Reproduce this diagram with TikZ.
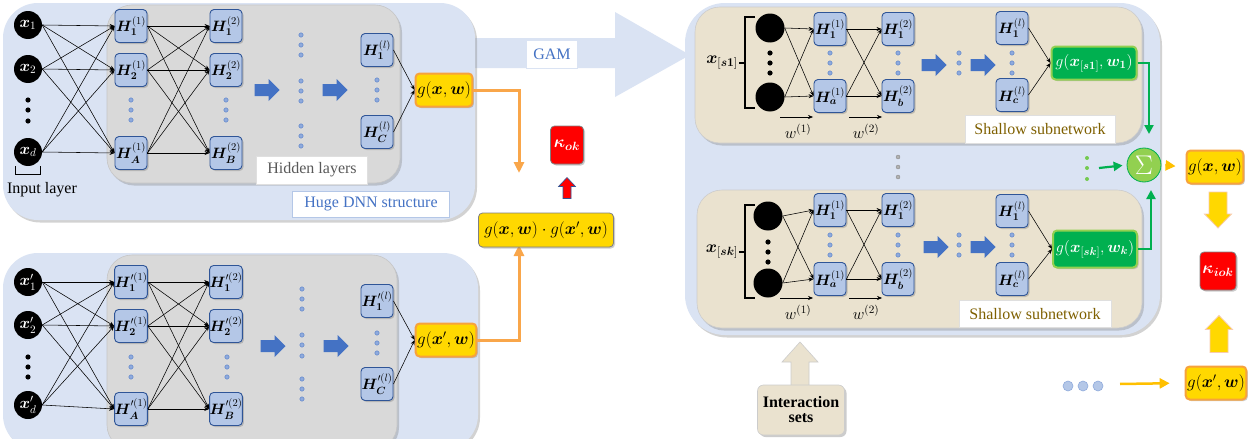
\documentclass[tikz,border=0pt]{standalone}
\usepackage{fix-cm}
\usepackage{amsmath}
\usepackage{bm}
\usepackage{fontspec}
\setmainfont{Liberation Serif}
\usetikzlibrary{arrows.meta,shadows,calc}
\newcommand{\myfs}[1]{\fontsize{#1}{#1}\selectfont}
\newcommand{\blockarr}[5]{%
 \path[#1] ({-#2/2},-#3) -- ({#2/2-#5},-#3) -- ({#2/2-#5},-#4) -- ({#2/2},0) -- ({#2/2-#5},#4) -- ({#2/2-#5},#3) -- ({-#2/2},#3) -- cycle;}
\definecolor{panelblue}{HTML}{DAE3F3}
\definecolor{grayp}{HTML}{D9D9D9}
\definecolor{hfill}{HTML}{B4C7E7}
\definecolor{hdraw}{HTML}{2F5597}
\definecolor{arrblue}{HTML}{4472C4}
\definecolor{dotfill}{HTML}{8FAADC}
\definecolor{gold}{HTML}{FFD800}
\definecolor{orangeb}{HTML}{F7A23C}
\definecolor{orangec}{HTML}{F9A64A}
\definecolor{amber}{HTML}{FFC000}
\definecolor{tan}{HTML}{EAE2CF}
\definecolor{dgreen}{HTML}{00B050}
\definecolor{lgreen}{HTML}{92D050}
\definecolor{brown}{HTML}{7F6000}
\definecolor{dgray}{HTML}{595959}
\definecolor{paleorange}{HTML}{F8CBAD}
\begin{document}
\begin{tikzpicture}[x=1pt,y=-1pt,
 shad/.style={drop shadow={opacity=0.35,shadow xshift=2pt,shadow yshift=-2.5pt}},
 panel/.style={fill=panelblue, rounded corners=35pt, shad},
 gpanel/.style={fill=grayp, draw=gray!45, line width=0.6pt, rounded corners=25pt, shad},
 tpanel/.style={fill=tan, draw=gray!40, line width=0.6pt, rounded corners=25pt, shad},
 hb/.style={rectangle, rounded corners=4pt, fill=hfill, draw=hdraw, line width=0.9pt, minimum width=32pt, minimum height=33pt, inner sep=0pt, font=\myfs{15}, drop shadow={opacity=0.4,shadow xshift=1.5pt,shadow yshift=-1.5pt}},
 inp/.style={circle, fill=black, minimum size=28pt, inner sep=0pt, text=white, font=\myfs{16}},
 blk/.style={circle, fill=black, minimum size=29pt, inner sep=0pt},
 gb/.style={rectangle, rounded corners=4pt, fill=gold, draw=orangeb, line width=2pt, inner sep=1.5pt, minimum height=33pt, font=\myfs{17}, drop shadow={opacity=0.4,shadow xshift=1.5pt,shadow yshift=-1.5pt}},
 grb/.style={rectangle, rounded corners=4pt, fill=dgreen, draw=lgreen, line width=2pt, inner sep=1.5pt, text=white, font=\myfs{16}, drop shadow={opacity=0.4,shadow xshift=1.5pt,shadow yshift=-1.5pt}},
 lab/.style={rectangle, fill=white, font=\myfs{16}, inner sep=0pt},
 edge/.style={-{Stealth[length=5pt,width=4pt]}, line width=0.55pt},
 wlab/.style={font=\myfs{16}, inner sep=0pt},
 orconn/.style={draw=orangec, line width=3pt, -{Triangle[length=11pt,width=10pt]}},
 grconn/.style={draw=dgreen, line width=2.2pt, -{Triangle[length=9pt,width=9pt]}},
 amconn/.style={draw=amber, line width=2.5pt, -{Triangle[length=10pt,width=10pt]}},
]
\useasboundingbox (0,0) rectangle (1254,439);
\fill[white] (0,0) rectangle (1254,439);

% GAM big arrow
\fill[panelblue] (470,38) -- (615,38) -- (615,12) -- (690,55) -- (615,97) -- (615,68) -- (470,68) -- cycle;
\node[lab, draw=panelblue, text=arrblue, minimum width=51pt, minimum height=28pt] (gam) at (552,54) {GAM};

% ================= top-left DNN =================
\path[panel] (3,3) rectangle (475,220);
\path[gpanel] (107,5) rectangle (400,183);
\node[inp] (a1) at (28,25) {$\bm{x}_1$};
\node[inp] (a2) at (28,69) {$\bm{x}_2$};
\node[inp] (a3) at (28,152) {$\bm{x}_d$};
\foreach \y in {100,110,121} \fill[black] (28,\y) circle (2.6);
\draw[line width=0.8pt] (15,166) -- (15,174) -- (40,174) -- (40,166);
\node[font=\myfs{16}, inner sep=0pt] (inlab) at (42,190) {Input layer};

\node[hb] (h11) at (131,26) {$\bm{H}_{\bm 1}^{(1)}$};
\node[hb] (h12) at (131,70) {$\bm{H}_{\bm 2}^{(1)}$};
\node[hb] (h13) at (131,153) {$\bm{H}_{\bm A}^{(1)}$};
\node[hb] (h21) at (226,26) {$\bm{H}_{\bm 1}^{(2)}$};
\node[hb] (h22) at (226,70) {$\bm{H}_{\bm 2}^{(2)}$};
\node[hb] (h23) at (226,153) {$\bm{H}_{\bm B}^{(2)}$};
\node[hb] (hl1) at (377,50) {$\bm{H}_{\bm 1}^{(l)}$};
\node[hb] (hl2) at (377,132) {$\bm{H}_{\bm C}^{(l)}$};
\foreach \xx in {131,226} \foreach \y in {100,110,120} \filldraw[fill=dotfill, draw=arrblue, line width=0.3pt] (\xx,\y) circle (2.2);
\foreach \y in {35,45,55,81,91,101,126,136,146} \filldraw[fill=dotfill, draw=arrblue, line width=0.3pt] (301,\y) circle (2.2);
\foreach \y in {80,90,100} \filldraw[fill=dotfill, draw=arrblue, line width=0.3pt] (377,\y) circle (2.2);
\begin{scope}[shift={(267,90)}]\blockarr{fill=arrblue}{25}{6}{11}{11}\end{scope}
\begin{scope}[shift={(335,90)}]\blockarr{fill=arrblue}{25}{6}{11}{11}\end{scope}
\foreach \i in {1,2,3} \foreach \j in {1,2,3} {
  \draw[edge] (a\i.east) -- (h1\j.west);
  \draw[edge] (h1\i.east) -- (h2\j.west);
}
\node[gb, minimum width=56pt] (g1) at (444,90) {$g(\bm{x},\bm{w})$};
\draw[edge] (hl1.east) -- (g1.west);
\draw[edge] (hl2.east) -- (g1.west);
\node[lab, draw=gray!25, text=dgray, minimum width=111pt, minimum height=28pt] (hid) at (312,170) {Hidden layers};
\node[lab, draw=hfill, text=arrblue, minimum width=157pt, minimum height=26pt] (huge) at (371,204) {Huge DNN structure};

% ================= bottom-left DNN =================
\path[panel] (3,253) rectangle (478,450);
\path[gpanel] (107,255) rectangle (397,450);
\node[inp] (b1) at (28,282) {$\bm{x}'_1$};
\node[inp] (b2) at (28,325) {$\bm{x}'_2$};
\node[inp] (b3) at (28,405) {$\bm{x}'_d$};
\foreach \y in {357,367,377} \fill[black] (28,\y) circle (2.6);
\node[hb] (p11) at (131,282) {$\bm{H}'^{(1)}_{\bm 1}$};
\node[hb] (p12) at (131,326) {$\bm{H}'^{(1)}_{\bm 2}$};
\node[hb] (p13) at (131,409) {$\bm{H}'^{(1)}_{\bm A}$};
\node[hb] (p21) at (226,282) {$\bm{H}'^{(2)}_{\bm 1}$};
\node[hb] (p22) at (226,326) {$\bm{H}'^{(2)}_{\bm 2}$};
\node[hb] (p23) at (226,409) {$\bm{H}'^{(2)}_{\bm B}$};
\node[hb] (pl1) at (377,301) {$\bm{H}'^{(l)}_{\bm 1}$};
\node[hb] (pl2) at (377,384) {$\bm{H}'^{(l)}_{\bm C}$};
\foreach \xx in {131,227} \foreach \y in {357,367,377} \filldraw[fill=dotfill, draw=arrblue, line width=0.3pt] (\xx,\y) circle (2.2);
\foreach \y in {289,299,309,335,345,356,379,389,399} \filldraw[fill=dotfill, draw=arrblue, line width=0.3pt] (302,\y) circle (2.2);
\foreach \y in {333,343,353} \filldraw[fill=dotfill, draw=arrblue, line width=0.3pt] (377,\y) circle (2.2);
\begin{scope}[shift={(273,346)}]\blockarr{fill=arrblue}{25}{6}{11}{11}\end{scope}
\begin{scope}[shift={(336,346)}]\blockarr{fill=arrblue}{25}{6}{11}{11}\end{scope}
\foreach \i in {1,2,3} \foreach \j in {1,2,3} {
  \draw[edge] (b\i.east) -- (p1\j.west);
  \draw[edge] (p1\i.east) -- (p2\j.west);
}
\node[gb, minimum width=58pt] (g2) at (446,340) {$g(\bm{x}',\bm{w})$};
\draw[edge] (pl1.east) -- (g2.west);
\draw[edge] (pl2.east) -- (g2.west);

% ================= middle =================
\coordinate (o1) at (519,173);
\coordinate (o2) at (519,245);
\draw[orconn] (g1.east) -| (o1);
\draw[orconn] (g2.east) -| (o2);
\node[rectangle, rounded corners=4pt, fill=red, draw=gray, line width=0.8pt, minimum width=33pt, minimum height=38pt, text=white, font=\myfs{17}, inner sep=0pt, drop shadow={opacity=0.4,shadow xshift=1.5pt,shadow yshift=-1.5pt}] (kok) at (567,145) {$\bm{\kappa}_{\bm{ok}}$};
\begin{scope}[shift={(567,188)}, rotate=90]\blockarr{fill=red, draw=hdraw, line width=0.6pt}{21}{4}{8.5}{9}\end{scope}
\node[rectangle, rounded corners=4pt, fill=gold, draw=gray, line width=0.8pt, minimum width=135pt, minimum height=34pt, font=\myfs{17}, inner sep=0pt, drop shadow={opacity=0.4,shadow xshift=1.5pt,shadow yshift=-1.5pt}] (prod) at (546,230) {$g(\bm{x},\bm{w})\cdot g(\bm{x}',\bm{w})$};

% ================= right GAM panel =================
\path[panel, rounded corners=40pt] (685,3) rectangle (1160,335);
\path[tpanel] (695,7) rectangle (1142,143);
\path[tpanel] (697,190) rectangle (1142,328);

% --- top subnetwork
\node[font=\myfs{17}, inner sep=0pt] (xs1) at (722,63) {$\bm{x}_{[\bm{s1}]}$};
\draw[line width=1.3pt] (755,17) -- (745,17) -- (745,108) -- (755,108);
\draw[line width=1.3pt] (739,63) -- (745,63);
\node[blk] (c11) at (770,28) {};
\node[blk] (c12) at (770,97) {};
\foreach \y in {53,63,73} \fill[black] (770,\y) circle (2.6);
\node[hb] (s1a1) at (830,29) {$\bm{H}_{\bm 1}^{(1)}$};
\node[hb] (s1a2) at (830,96) {$\bm{H}_{\bm a}^{(1)}$};
\node[hb] (s1b1) at (898,29) {$\bm{H}_{\bm 1}^{(2)}$};
\node[hb] (s1b2) at (898,96) {$\bm{H}_{\bm b}^{(2)}$};
\node[hb] (s1l1) at (1012,28) {$\bm{H}_{\bm 1}^{(l)}$};
\node[hb] (s1l2) at (1012,95) {$\bm{H}_{\bm c}^{(l)}$};
\foreach \xx in {830,898,959,1012} \foreach \y in {53,63,73} \filldraw[fill=dotfill, draw=arrblue, line width=0.3pt] (\xx,\y) circle (2.2);
\begin{scope}[shift={(934,65)}]\blockarr{fill=arrblue}{25}{6}{11}{11}\end{scope}
\begin{scope}[shift={(983,65)}]\blockarr{fill=arrblue}{25}{6}{11}{11}\end{scope}
\foreach \i in {1,2} \foreach \j in {1,2} {
  \draw[edge] (c1\i.east) -- (s1a\j.west);
  \draw[edge] (s1a\i.east) -- (s1b\j.west);
}
\coordinate (w1s) at (780,117); \coordinate (w1e) at (813,117);
\coordinate (w2s) at (849,117); \coordinate (w2e) at (882,117);
\draw[edge] (w1s) -- (w1e);
\draw[edge] (w2s) -- (w2e);
\node[wlab] (w1l) at (798,131) {$w^{(1)}$};
\node[wlab] (w2l) at (866,131) {$w^{(2)}$};
\node[grb, minimum width=85pt, minimum height=33pt] (gs1) at (1094,63) {$g(\bm{x}_{[\bm{s1}]},\bm{w}_{\bm 1})$};
\draw[edge] (s1l1.east) -- (gs1.west);
\draw[edge] (s1l2.east) -- (gs1.west);
\node[lab, draw=gray!25, text=brown, minimum width=150pt, minimum height=28pt] (sh1) at (1040,129) {Shallow subnetwork};

% --- bottom subnetwork
\node[font=\myfs{17}, inner sep=0pt] (xsk) at (722,252) {$\bm{x}_{[\bm{sk}]}$};
\draw[line width=1.3pt] (755,205) -- (745,205) -- (745,298) -- (755,298);
\draw[line width=1.3pt] (739,252) -- (745,252);
\node[blk] (c21) at (768,216) {};
\node[blk] (c22) at (768,283) {};
\foreach \y in {242,252,262} \fill[black] (768,\y) circle (2.6);
\node[hb] (s2a1) at (830,210) {$\bm{H}_{\bm 1}^{(1)}$};
\node[hb] (s2a2) at (830,279) {$\bm{H}_{\bm a}^{(1)}$};
\node[hb] (s2b1) at (898,210) {$\bm{H}_{\bm 1}^{(2)}$};
\node[hb] (s2b2) at (898,279) {$\bm{H}_{\bm b}^{(2)}$};
\node[hb] (s2l1) at (1012,211) {$\bm{H}_{\bm 1}^{(l)}$};
\node[hb] (s2l2) at (1012,279) {$\bm{H}_{\bm c}^{(l)}$};
\foreach \xx in {830,898,959,1012} \foreach \y in {235,245,255} \filldraw[fill=dotfill, draw=arrblue, line width=0.3pt] (\xx,\y) circle (2.2);
\begin{scope}[shift={(936,247)}]\blockarr{fill=arrblue}{25}{6}{11}{11}\end{scope}
\begin{scope}[shift={(983,247)}]\blockarr{fill=arrblue}{25}{6}{11}{11}\end{scope}
\foreach \i in {1,2} \foreach \j in {1,2} {
  \draw[edge] (c2\i.east) -- (s2a\j.west);
  \draw[edge] (s2a\i.east) -- (s2b\j.west);
}
\coordinate (v1s) at (780,298); \coordinate (v1e) at (813,298);
\coordinate (v2s) at (849,298); \coordinate (v2e) at (882,298);
\draw[edge] (v1s) -- (v1e);
\draw[edge] (v2s) -- (v2e);
\node[wlab] (v1l) at (798,312) {$w^{(1)}$};
\node[wlab] (v2l) at (866,312) {$w^{(2)}$};
\node[grb, minimum width=84pt, minimum height=37pt] (gsk) at (1095,249) {$g(\bm{x}_{[\bm{sk}]},\bm{w}_{\bm k})$};
\draw[edge] (s2l1.east) -- (gsk.west);
\draw[edge] (s2l2.east) -- (gsk.west);
\node[lab, draw=gray!25, text=brown, minimum width=152pt, minimum height=27pt] (sh2) at (1035,314) {Shallow subnetwork};

% gray dots between subnetworks
\foreach \y in {157,167,177} \filldraw[fill=gray!60, draw=gray, line width=0.3pt] (898,\y) circle (2);

% sigma
\node[circle, fill=lgreen, draw=dgreen, line width=0.8pt, minimum size=34pt, inner sep=0pt, text=white, font=\myfs{27}] (sig) at (1144,165) {$\Sigma$};
\coordinate (sigtop) at (1149,134);
\coordinate (sigbot) at (1151,190);
\draw[grconn] (gs1.east) -| (sigtop);
\draw[grconn] (gsk.east) -| (sigbot);
\foreach \y in {158,168,179} \fill[lgreen!80!dgreen] (1087,\y) circle (2);
\coordinate (gd) at (1099,168);
\draw[grconn, shorten >=4pt] (gd) -- (sig.west);

% far right
\node[gb, minimum width=55pt] (gr1) at (1215,167) {$g(\bm{x},\bm{w})$};
\draw[amconn, shorten <=4pt, shorten >=10pt] (sig.east) -- (gr1.west);
\begin{scope}[shift={(1218,210)}, rotate=-90]\blockarr{fill=gold, draw=paleorange, line width=0.8pt}{36}{9}{13.5}{14}\end{scope}
\node[rectangle, rounded corners=4pt, fill=red, draw=gray, line width=0.8pt, minimum width=36pt, minimum height=38pt, text=white, font=\myfs{17}, inner sep=0pt, drop shadow={opacity=0.4,shadow xshift=1.5pt,shadow yshift=-1.5pt}] (kiok) at (1218,271) {$\bm{\kappa}_{\bm{iok}}$};
\begin{scope}[shift={(1219,334)}, rotate=90]\blockarr{fill=gold, draw=paleorange, line width=0.8pt}{37}{9}{13.5}{14}\end{scope}
\node[gb, minimum width=58pt] (gr2) at (1216,383) {$g(\bm{x}',\bm{w})$};
\foreach \xx in {1068,1083,1098} \filldraw[fill=hfill, draw=dotfill, line width=0.6pt] (\xx,386) circle (5);
\coordinate (od) at (1120,384);
\draw[amconn, shorten >=15pt] (od) -- (gr2.west);

% interaction sets
\begin{scope}[shift={(800,364)}, rotate=90]\blockarr{fill=tan, draw=gray!40, line width=0.6pt}{44}{9}{18}{20}\end{scope}
\node[rectangle, rounded corners=6pt, fill=tan, draw=gray!40, line width=0.6pt, minimum width=87pt, minimum height=50pt, align=center, font=\myfs{16}\bfseries, inner sep=0pt, drop shadow={opacity=0.4,shadow xshift=2pt,shadow yshift=-2pt}] (inter) at (801,410) {Interaction\\[-1pt]sets};
\end{tikzpicture}
\end{document}
